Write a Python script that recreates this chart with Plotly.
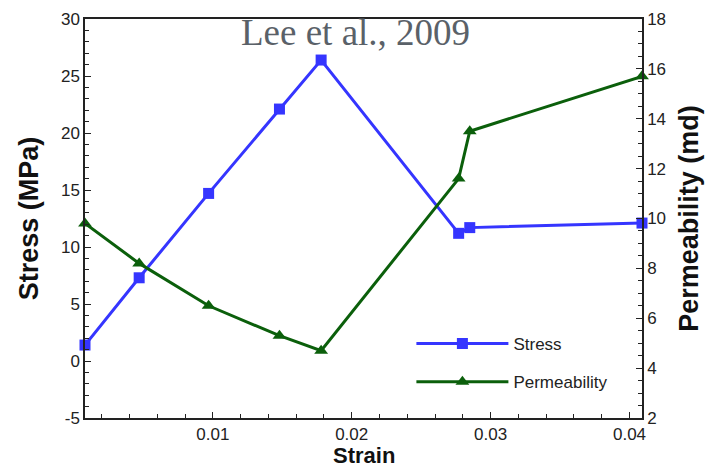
import plotly.graph_objects as go

# Strain values shared by both series
strain = [0.0008, 0.0047, 0.0097, 0.0148, 0.0178, 0.0277, 0.0285, 0.0409]
# Stress (MPa), left axis
stress = [1.4, 7.3, 14.7, 22.1, 26.4, 11.2, 11.7, 12.1]
# Permeability (md), right axis
permeability = [9.8, 8.2, 6.5, 5.3, 4.7, 11.6, 13.5, 15.7]

# Tick labels (plain hyphen for the negative value)
stress_ticks = [-5, 0, 5, 10, 15, 20, 25, 30]
stress_ticktext = ["-5", "0", "5", "10", "15", "20", "25", "30"]

BLUE = "#3535ff"
GREEN = "#0b5f0b"
TICK_FONT = dict(family="Liberation Sans, Arial, sans-serif", size=17, color="#222222")
TITLE_FONT = dict(family="Liberation Sans, Arial, sans-serif", size=27, color="#111111", weight="bold")
XTITLE_FONT = dict(family="Liberation Sans, Arial, sans-serif", size=22, color="#111111", weight="bold")
LEGEND_FONT = dict(family="Liberation Sans, Arial, sans-serif", size=17, color="#222222")

fig = go.Figure()

fig.add_trace(go.Scatter(
    x=strain, y=stress, name="Stress", mode="lines+markers",
    line=dict(color=BLUE, width=3),
    marker=dict(symbol="square", size=11, color=BLUE),
    cliponaxis=False, legend="legend",
))
fig.add_trace(go.Scatter(
    x=strain, y=permeability, name="Permeability", mode="lines+markers",
    line=dict(color=GREEN, width=3),
    marker=dict(symbol="triangle-up", size=12, color=GREEN),
    cliponaxis=False, yaxis="y2", legend="legend2",
))

axis_common = dict(
    showline=True, linecolor="#222222", linewidth=1.5,
    ticks="inside", ticklen=6, tickwidth=1.2, tickcolor="#222222",
    showgrid=False, zeroline=False, tickfont=TICK_FONT, automargin=False,
)

fig.update_layout(
    width=710, height=469,
    margin=dict(l=85, r=68, t=19, b=51),
    paper_bgcolor="white", plot_bgcolor="white",
    xaxis=dict(
        **axis_common, range=[0.0008, 0.0409], tick0=0, dtick=0.01,
        mirror=True,
        minor=dict(dtick=0.002, tick0=0, ticks="inside", ticklen=4, tickcolor="#222222"),
    ),
    yaxis=dict(
        **axis_common, range=[-5, 30], tickvals=stress_ticks, ticktext=stress_ticktext,
        minor=dict(dtick=1, ticks="inside", ticklen=4, tickcolor="#222222"),
        title=dict(text="Stress (MPa)", font=TITLE_FONT, standoff=14),
    ),
    yaxis2=dict(
        **axis_common, range=[2, 18], dtick=2, overlaying="y", side="right",
        minor=dict(dtick=0.5, ticks="inside", ticklen=4, tickcolor="#222222"),
        title=dict(text="Permeability (md)", font=TITLE_FONT, standoff=14),
    ),
    legend=dict(
        x=0.586, y=0.1855, xanchor="left", yanchor="middle",
        bgcolor="rgba(0,0,0,0)", itemwidth=92, font=LEGEND_FONT,
    ),
    legend2=dict(
        x=0.586, y=0.09, xanchor="left", yanchor="middle",
        bgcolor="rgba(0,0,0,0)", itemwidth=92, font=LEGEND_FONT,
    ),
    showlegend=True,
    annotations=[
        dict(
            text="Lee et al., 2009", x=0.4865, y=0.965, xref="paper", yref="paper",
            xanchor="center", yanchor="middle", showarrow=False,
            font=dict(family="Liberation Serif, Times New Roman, serif", size=37, color="#5a6168"),
        ),
        # x-axis title, set just below the tick labels
        dict(
            text="Strain", x=0.5, y=-0.095, xref="paper", yref="paper",
            xanchor="center", yanchor="middle", showarrow=False,
            font=XTITLE_FONT,
        ),
    ],
)

fig.write_html("out.html")
